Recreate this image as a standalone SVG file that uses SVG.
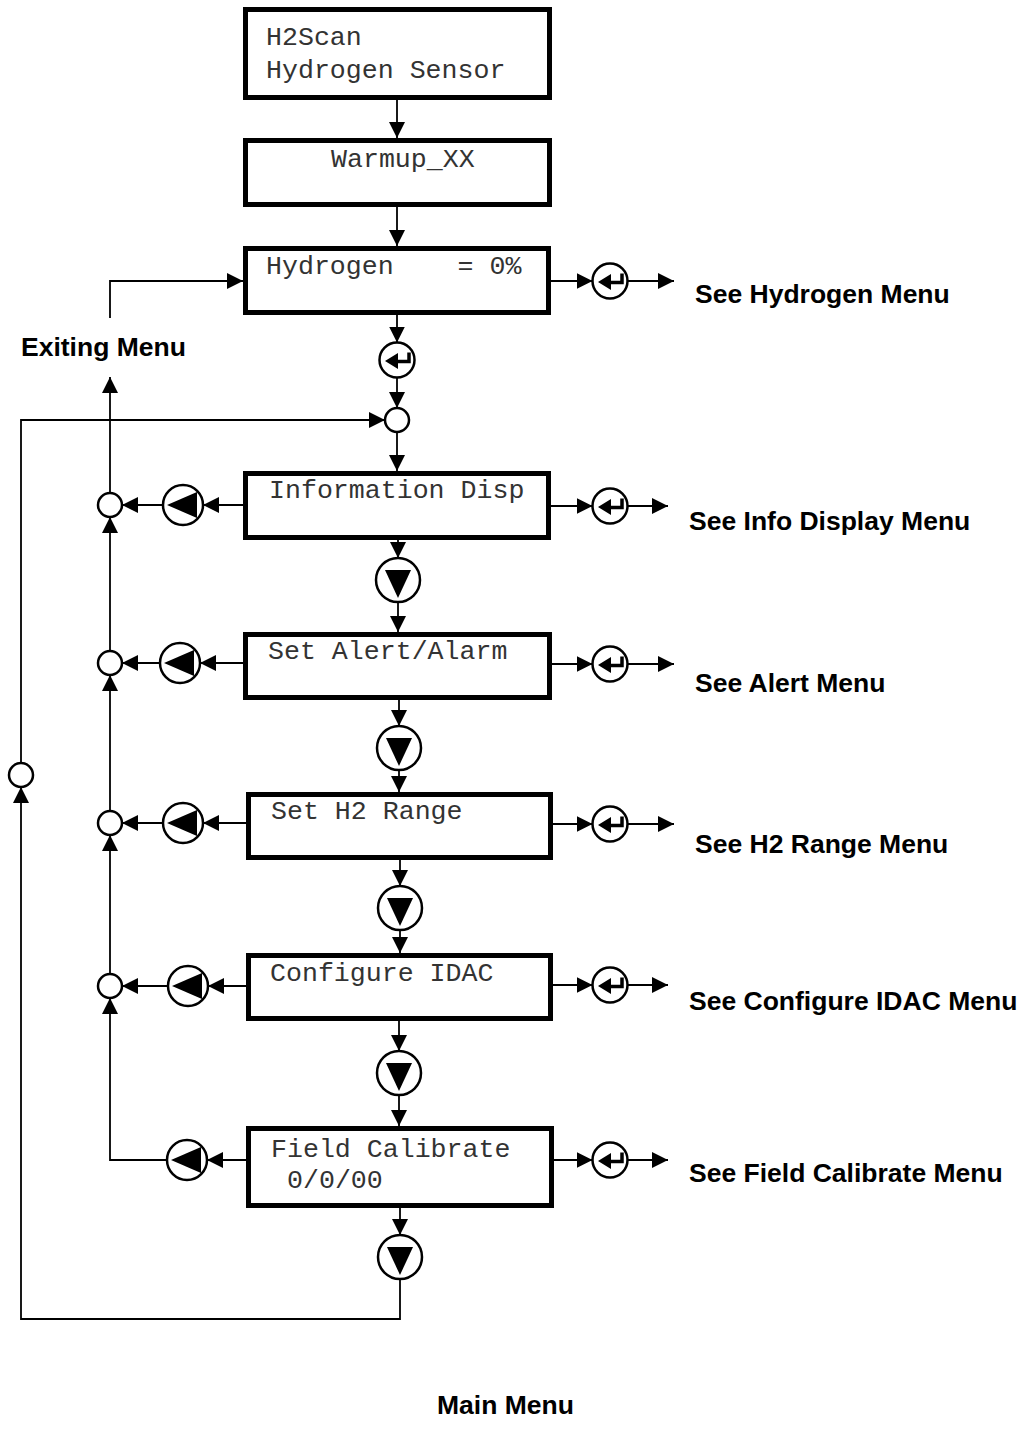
<svg xmlns="http://www.w3.org/2000/svg" xmlns:xlink="http://www.w3.org/1999/xlink" width="1028" height="1445" viewBox="0 0 1028 1445">
<style>
  .box { fill: #fff; stroke: #000; stroke-width: 5; }
  .mono { font-family: "Liberation Mono", "Courier New", monospace; font-size: 26.6px; fill: #333; }
  .lbl { font-family: "Liberation Sans", Arial, sans-serif; font-size: 26.5px; font-weight: bold; fill: #000; }
  .conn { fill: none; stroke: #000; stroke-width: 1.8; marker-end: url(#ah); }
  .ring { fill: #fff; stroke: #000; stroke-width: 2.5; }
</style>
<defs>
  <marker id="ah" markerUnits="userSpaceOnUse" markerWidth="16" markerHeight="16" refX="16" refY="8" orient="auto">
    <path d="M0,0 L16,8 L0,16 z" fill="#000"/>
  </marker>
  <g id="enter">
    <circle class="ring" r="17.5"/>
    <path d="M-12,1 L1,-7 L1,9 Z" fill="#000"/>
    <path d="M0,1.5 H12 V-7.5" fill="none" stroke="#000" stroke-width="3.5"/>
  </g>
  <g id="leftbtn">
    <circle class="ring" r="20"/>
    <path d="M-16,0 L14,-13 L14,13 Z" fill="#000"/>
  </g>
  <g id="downbtn">
    <circle class="ring" r="22"/>
    <path d="M-13,-10 L13,-10 L0,18 Z" fill="#000"/>
  </g>
  <circle id="dot" class="ring" r="12"/>
</defs>
<rect width="1028" height="1445" fill="#fff"/>

<g id="connectors">
  <path class="conn" d="M397,100 V138"/>
  <path class="conn" d="M397,207 V246"/>
  <path class="conn" d="M397,315 V342.5"/>
  <path class="conn" d="M397,377.5 V408"/>
  <path class="conn" d="M397,432 V471"/>
  <path class="conn" d="M398,540 V558"/>
  <path class="conn" d="M398,602 V632"/>
  <path class="conn" d="M399,700 V726"/>
  <path class="conn" d="M399,770 V792"/>
  <path class="conn" d="M400,860 V886"/>
  <path class="conn" d="M400,930 V953"/>
  <path class="conn" d="M399,1021 V1051"/>
  <path class="conn" d="M399,1095 V1126"/>
  <path class="conn" d="M400,1208 V1235"/>
  <path class="conn" d="M400,1279 V1319 H21 V787"/>
  <path class="conn" d="M21,763 V420 H385"/>
  <path class="conn" d="M110,318 V281 H243"/>
  <path class="conn" d="M110,493 V377"/>
  <path class="conn" d="M110,651 V517"/>
  <path class="conn" d="M110,811 V675"/>
  <path class="conn" d="M110,974 V835"/>
  <path class="conn" d="M167,1160 H110 V998"/>
  <path class="conn" d="M243,505 H203"/>
  <path class="conn" d="M163,505 H122"/>
  <path class="conn" d="M243,663 H200"/>
  <path class="conn" d="M160,663 H122"/>
  <path class="conn" d="M246,823 H203"/>
  <path class="conn" d="M163,823 H122"/>
  <path class="conn" d="M246,986 H208"/>
  <path class="conn" d="M168,986 H122"/>
  <path class="conn" d="M246,1160 H207"/>
  <path class="conn" d="M551,281 H592.5"/>
  <path class="conn" d="M627.5,281 H674"/>
  <path class="conn" d="M551,506 H592.5"/>
  <path class="conn" d="M627.5,506 H668"/>
  <path class="conn" d="M552,664 H592.5"/>
  <path class="conn" d="M627.5,664 H674"/>
  <path class="conn" d="M553,824 H592.5"/>
  <path class="conn" d="M627.5,824 H674"/>
  <path class="conn" d="M553,985 H592.5"/>
  <path class="conn" d="M627.5,985 H668"/>
  <path class="conn" d="M554,1160 H592.5"/>
  <path class="conn" d="M627.5,1160 H668"/>
</g>

<g id="node-h2scan">
  <rect class="box" x="245.5" y="9.5" width="304" height="88"/>
  <text class="mono" x="266" y="45">H2Scan</text>
  <text class="mono" x="266" y="78">Hydrogen Sensor</text>
</g>
<g id="node-warmup">
  <rect class="box" x="245.5" y="140.5" width="304" height="64"/>
  <text class="mono" x="331" y="167">Warmup_XX</text>
</g>
<g id="node-hydrogen">
  <rect class="box" x="245.5" y="248.5" width="303" height="64"/>
  <text class="mono" x="266" y="274" xml:space="preserve">Hydrogen    = 0%</text>
</g>
<g id="node-info">
  <rect class="box" x="245.5" y="473.5" width="303" height="64"/>
  <text class="mono" x="269" y="498">Information Disp</text>
</g>
<g id="node-alert">
  <rect class="box" x="245.5" y="634.5" width="304" height="63"/>
  <text class="mono" x="268" y="659">Set Alert/Alarm</text>
</g>
<g id="node-h2range">
  <rect class="box" x="248.5" y="794.5" width="302" height="63"/>
  <text class="mono" x="271" y="819">Set H2 Range</text>
</g>
<g id="node-idac">
  <rect class="box" x="248.5" y="955.5" width="302" height="63"/>
  <text class="mono" x="270" y="981">Configure IDAC</text>
</g>
<g id="node-fieldcal">
  <rect class="box" x="248.5" y="1128.5" width="303" height="77"/>
  <text class="mono" x="271" y="1157">Field Calibrate</text>
  <text class="mono" x="287" y="1188">0/0/00</text>
</g>

<g id="node-enter-h2-down"><use xlink:href="#enter" x="397" y="360"/></g>
<g id="node-join-top"><use xlink:href="#dot" x="397" y="420"/></g>
<g id="node-join-loop"><use xlink:href="#dot" x="21" y="775"/></g>

<g id="node-enter-hydrogen"><use xlink:href="#enter" x="610" y="281"/></g>
<g id="node-enter-info"><use xlink:href="#enter" x="610" y="506"/></g>
<g id="node-enter-alert"><use xlink:href="#enter" x="610" y="664"/></g>
<g id="node-enter-h2range"><use xlink:href="#enter" x="610" y="824"/></g>
<g id="node-enter-idac"><use xlink:href="#enter" x="610" y="985"/></g>
<g id="node-enter-fieldcal"><use xlink:href="#enter" x="610" y="1160"/></g>

<g id="node-down-info"><use xlink:href="#downbtn" x="398" y="580"/></g>
<g id="node-down-alert"><use xlink:href="#downbtn" x="399" y="748"/></g>
<g id="node-down-h2range"><use xlink:href="#downbtn" x="400" y="908"/></g>
<g id="node-down-idac"><use xlink:href="#downbtn" x="399" y="1073"/></g>
<g id="node-down-fieldcal"><use xlink:href="#downbtn" x="400" y="1257"/></g>

<g id="node-left-info"><use xlink:href="#leftbtn" x="183" y="505"/></g>
<g id="node-left-alert"><use xlink:href="#leftbtn" x="180" y="663"/></g>
<g id="node-left-h2range"><use xlink:href="#leftbtn" x="183" y="823"/></g>
<g id="node-left-idac"><use xlink:href="#leftbtn" x="188" y="986"/></g>
<g id="node-left-fieldcal"><use xlink:href="#leftbtn" x="187" y="1160"/></g>

<g id="node-join-info"><use xlink:href="#dot" x="110" y="505"/></g>
<g id="node-join-alert"><use xlink:href="#dot" x="110" y="663"/></g>
<g id="node-join-h2range"><use xlink:href="#dot" x="110" y="823"/></g>
<g id="node-join-idac"><use xlink:href="#dot" x="110" y="986"/></g>

<g id="labels">
  <text class="lbl" x="21" y="356">Exiting Menu</text>
  <text class="lbl" x="695" y="303">See Hydrogen Menu</text>
  <text class="lbl" x="689" y="530">See Info Display Menu</text>
  <text class="lbl" x="695" y="692">See Alert Menu</text>
  <text class="lbl" x="695" y="853">See H2 Range Menu</text>
  <text class="lbl" x="689" y="1010">See Configure IDAC Menu</text>
  <text class="lbl" x="689" y="1182">See Field Calibrate Menu</text>
  <text class="lbl" x="437" y="1414">Main Menu</text>
</g>
</svg>
